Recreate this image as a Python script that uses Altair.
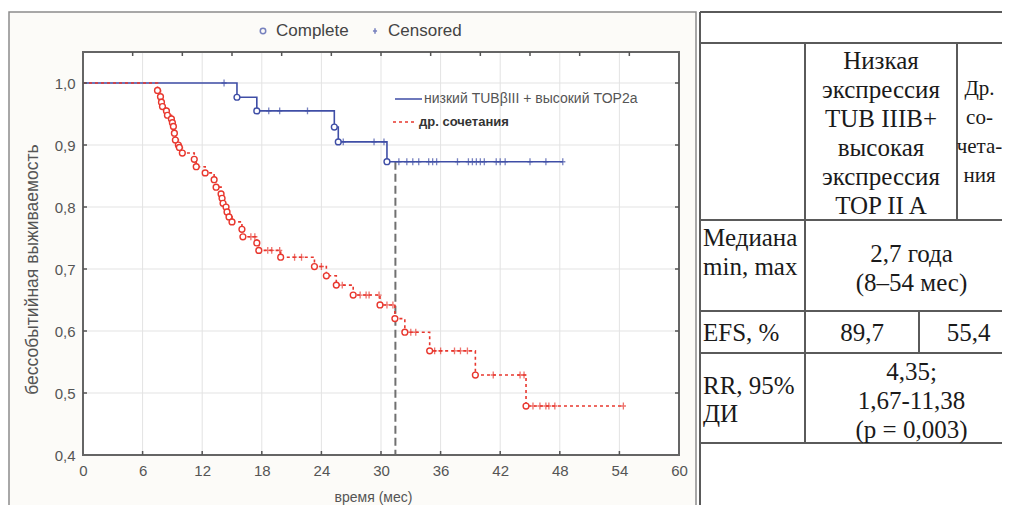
import altair as alt
import pandas as pd

# ---------------- data ----------------
GROUPS = ["низкий TUBβIII + высокий TOP2a", "др. сочетания"]
EVENT_KINDS = ["Complete", "Censored"]

BLUE_EVENT_T = [15.5, 17.5, 25.3, 25.7, 30.6]
BLUE_EVENT_S = [0.977, 0.955, 0.929, 0.905, 0.873]
BLUE_CENS_T = [14.2, 18.7, 19.8, 22.6, 26.2, 29.3, 30.3, 31.8, 32.6, 33.2, 33.8,
               34.8, 35.2, 35.6, 37.7, 38.8, 39.2, 39.6, 40.0, 40.4, 41.6, 42.0,
               42.5, 45.0, 46.6, 48.3]

RED_EVENT_T = [7.5, 7.8, 7.9, 8.0, 8.4, 8.5, 8.9, 9.0, 9.1, 9.2, 9.3, 9.6, 9.7,
               10.0, 11.2, 11.4, 12.3, 13.2, 13.4, 13.9, 14.0, 14.1, 14.4, 14.5,
               14.7, 15.0, 16.0, 16.1, 17.5, 17.7, 19.9, 23.3, 24.5, 25.5, 27.2,
               29.9, 31.4, 32.4, 34.9, 39.5, 44.6]
RED_EVENT_S = [0.988, 0.978, 0.969, 0.962, 0.955, 0.948, 0.942, 0.936, 0.930,
               0.919, 0.908, 0.900, 0.896, 0.887, 0.877, 0.865, 0.855, 0.844,
               0.832, 0.821, 0.814, 0.806, 0.800, 0.792, 0.784, 0.776, 0.764,
               0.752, 0.742, 0.730, 0.719, 0.704, 0.689, 0.674, 0.658, 0.642,
               0.620, 0.598, 0.568, 0.529, 0.479]
RED_CENS_T = [16.9, 17.3, 18.6, 19.0, 19.8, 21.3, 22.0, 24.0, 26.1, 27.9, 28.5,
              28.8, 29.8, 30.6, 31.2, 33.0, 33.5, 35.4, 36.0, 37.4, 38.0, 38.7,
              41.3, 44.0, 44.4, 45.3, 46.0, 46.6, 46.9, 47.5, 54.4]

MEDIAN_T = [31.45]
MEDIAN_TOP = [0.873]
MEDIAN_BOTTOM = [0.4]

X_TICKS = [0, 6, 12, 18, 24, 30, 36, 42, 48, 54, 60]
X_TOP_TICKS = [5, 10, 15, 20, 25, 30, 35, 40, 45, 50, 55]
Y_TICKS = [0.4, 0.5, 0.6, 0.7, 0.8, 0.9, 1.0]

X_TITLE = "время (мес)"
Y_TITLE = "бессобытийная выживаемость"

# table texts
HEAD_COL2 = ["Низкая", "экспрессия", "TUB IIIB+", "высокая", "экспрессия", "TOP II A"]
HEAD_COL3 = ["Др.", "со-", "чета-", "ния"]
MEDIAN_LABEL = ["Медиана", "min, max"]
MEDIAN_VALUE = ["2,7 года", "(8–54 мес)"]
EFS_LABEL = ["EFS, %"]
EFS_VALUES = ["89,7", "55,4"]
RR_LABEL = ["RR, 95%", "ДИ"]
RR_VALUE = ["4,35;", "1,67-11,38", "(p = 0,003)"]

# ---------------- styling / layout ----------------
BLUE = "#3f4ea6"
RED = "#e8372e"
PLUS = "M0,-1L0,1M-0.75,0L0.75,0"
W, H = 596, 403
SANS = "Liberation Sans"
SERIF = "Liberation Serif"


def level_at(t, ev_t, ev_s):
    s = 1.0
    for et, es in zip(ev_t, ev_s):
        if et <= t:
            s = es
    return s


line_rows, mark_rows = [], []
for g, et, es, ct in [(GROUPS[0], BLUE_EVENT_T, BLUE_EVENT_S, BLUE_CENS_T),
                      (GROUPS[1], RED_EVENT_T, RED_EVENT_S, RED_CENS_T)]:
    line_rows.append({"group": g, "t": 0.0, "s": 1.0})
    for t, s in zip(et, es):
        line_rows.append({"group": g, "t": t, "s": s})
        mark_rows.append({"group": g, "t": t, "s": s, "kind": EVENT_KINDS[0]})
    for t in ct:
        mark_rows.append({"group": g, "t": t, "s": level_at(t, et, es), "kind": EVENT_KINDS[1]})
    line_rows.append({"group": g, "t": max(ct), "s": level_at(max(ct), et, es)})
line_df = pd.DataFrame(line_rows)
mark_df = pd.DataFrame(mark_rows)

xs = alt.Scale(domain=[0, 60], nice=False, zero=False)
ys = alt.Scale(domain=[0.4, 1.05], nice=False, zero=False)
xax = alt.Axis(orient="bottom", values=X_TICKS, grid=False, ticks=False, domain=False,
               tickSize=0, labelFlush=False, labelFont=SANS, labelFontSize=15,
               labelColor="#555", labelPadding=8, title=X_TITLE, titleFont=SANS,
               titleFontSize=14, titleFontWeight="normal", titleColor="#555",
               titlePadding=12, titleX=290, zindex=1)
yax = alt.Axis(orient="left", values=Y_TICKS, grid=False, ticks=False, domain=False,
               tickSize=0, labelFlush=False, labelFont=SANS, labelFontSize=15,
               labelColor="#555", labelPadding=8,
               labelExpr="replace(format(datum.value, '.1f'), '.', ',')",
               title=Y_TITLE, titleFont=SANS, titleFontSize=17.5, titleFontWeight="normal",
               titleColor="#555", titlePadding=13, titleY=217, zindex=1)

X = lambda f: alt.X(f, type="quantitative", scale=xs, axis=xax)
Y = lambda f: alt.Y(f, type="quantitative", scale=ys, axis=yax)
color = alt.Color("group:N", scale=alt.Scale(domain=GROUPS, range=[BLUE, RED]), legend=None)
dash = alt.StrokeDash("group:N", scale=alt.Scale(domain=GROUPS, range=[[1, 0], [3, 3]]), legend=None)

one = pd.DataFrame({"a": [0]})
plot_bg = alt.Chart(one).mark_rect(fill="white").encode(
    x=alt.value(0), x2=alt.value(W), y=alt.value(0), y2=alt.value(H))
vgrid = alt.Chart(pd.DataFrame({"t": X_TICKS})).mark_rule(color="#e3e3e3", strokeWidth=1).encode(
    x=X("t"), y=alt.value(0), y2=alt.value(H))
hgrid = alt.Chart(pd.DataFrame({"s": Y_TICKS})).mark_rule(color="#e3e3e3", strokeWidth=1).encode(
    y=Y("s"), x=alt.value(0), x2=alt.value(W))
median = alt.Chart(pd.DataFrame({"t": MEDIAN_T, "top": MEDIAN_TOP, "bot": MEDIAN_BOTTOM})).mark_rule(
    color="#707070", strokeWidth=2, strokeDash=[8, 4]).encode(x=X("t"), y=Y("top"), y2="bot:Q")
lines = alt.Chart(line_df).mark_line(interpolate="step-after", strokeWidth=1.6).encode(
    x=X("t"), y=Y("s"), color=color, strokeDash=dash, detail="group:N")
circles = alt.Chart(mark_df).transform_filter(alt.datum.kind == EVENT_KINDS[0]).mark_point(
    shape="circle", size=34, strokeWidth=1.4, filled=False, fill="white", fillOpacity=1).encode(
    x=X("t"), y=Y("s"), color=color)
crosses = alt.Chart(mark_df).transform_filter(alt.datum.kind == EVENT_KINDS[1]).mark_point(
    shape=PLUS, size=48, strokeWidth=1.3, filled=False).encode(x=X("t"), y=Y("s"), color=color)
frame = alt.Chart(one).mark_rect(fill="transparent", stroke="#656565", strokeWidth=2).encode(
    x=alt.value(0), x2=alt.value(W), y=alt.value(0), y2=alt.value(H))
tick_style = dict(color="#555", strokeWidth=1.5)
bticks = alt.Chart(pd.DataFrame({"t": X_TICKS[1:-1]})).mark_rule(**tick_style).encode(
    x=X("t"), y=alt.value(H), y2=alt.value(H - 4))
tticks = alt.Chart(pd.DataFrame({"t": X_TOP_TICKS})).mark_rule(**tick_style).encode(
    x=X("t"), y=alt.value(0), y2=alt.value(4))
lticks = alt.Chart(pd.DataFrame({"s": Y_TICKS[1:]})).mark_rule(**tick_style).encode(
    y=Y("s"), x=alt.value(0), x2=alt.value(4))
rticks = alt.Chart(pd.DataFrame({"s": Y_TICKS[1:]})).mark_rule(**tick_style).encode(
    y=Y("s"), x=alt.value(W), x2=alt.value(W - 4))

km = alt.layer(plot_bg, vgrid, hgrid, median, lines, circles, crosses, frame,
               bticks, tticks, lticks, rticks)

# ---------------- page-coordinate layers (panel, legends, table) ----------------
PXS = alt.Scale(domain=[0, 1010], range=[-83, 927], nice=False, zero=False)
PYS = alt.Scale(domain=[0, 513], range=[-52, 461], nice=False, zero=False)
PX = lambda f: alt.X(f, type="quantitative", scale=PXS, axis=None)
PY = lambda f: alt.Y(f, type="quantitative", scale=PYS, axis=None)

panel = alt.Chart(pd.DataFrame({"x": [9], "x2": [696], "y": [12], "y2": [530]})).mark_rect(
    fill="#fcfbf8", stroke="#8c8c8c", strokeWidth=1.5).encode(
    x=PX("x"), x2="x2:Q", y=PY("y"), y2="y2:Q")

# top legend
leg_sym = alt.Chart(pd.DataFrame({"x": [263, 375], "y": [31, 31], "kind": EVENT_KINDS})).mark_point(
    filled=False, strokeWidth=1.5, size=30, color=BLUE).encode(
    x=PX("x"), y=PY("y"),
    shape=alt.Shape("kind:N", scale=alt.Scale(domain=EVENT_KINDS, range=["circle", PLUS]), legend=None))
leg_txt = alt.Chart(pd.DataFrame({"x": [276, 388], "y": [31, 31], "label": EVENT_KINDS})).mark_text(
    align="left", baseline="middle", font=SANS, fontSize=17, color="#444").encode(
    x=PX("x"), y=PY("y"), text="label:N")

# inner legend
in_rule = alt.Chart(pd.DataFrame({"x": [395, 393], "x2": [422, 416], "y": [99, 122], "group": GROUPS})).mark_rule(
    strokeWidth=1.6).encode(x=PX("x"), x2="x2:Q", y=PY("y"), color=color,
                            strokeDash=alt.StrokeDash("group:N", scale=alt.Scale(domain=GROUPS, range=[[1, 0], [2, 2]]), legend=None))
in_txt1 = alt.Chart(pd.DataFrame({"x": [424], "y": [99], "label": [GROUPS[0]]})).mark_text(
    align="left", baseline="middle", font=SANS, fontSize=14, color="#555").encode(
    x=PX("x"), y=PY("y"), text="label:N")
in_txt2 = alt.Chart(pd.DataFrame({"x": [419], "y": [122], "label": [GROUPS[1]]})).mark_text(
    align="left", baseline="middle", font=SANS, fontSize=13, fontWeight="bold", color="#333").encode(
    x=PX("x"), y=PY("y"), text="label:N")

# table grid lines (page coordinates)
T_L, T_R = 700, 1018
C1, C2E, C2H = 805, 919, 957
R0, R1, R2, R3, R4, R5 = 12, 43, 220, 311, 353, 443
tab_lines = pd.DataFrame([
    {"x": T_L, "x2": T_R, "y": R0, "y2": R0},
    {"x": T_L, "x2": T_R, "y": R1, "y2": R1},
    {"x": T_L, "x2": T_R, "y": R2, "y2": R2},
    {"x": T_L, "x2": T_R, "y": R3, "y2": R3},
    {"x": T_L, "x2": T_R, "y": R4, "y2": R4},
    {"x": T_L, "x2": T_R, "y": R5, "y2": R5},
    {"x": T_L, "x2": T_L, "y": R0, "y2": 520},
    {"x": C1, "x2": C1, "y": R1, "y2": R5},
    {"x": C2H, "x2": C2H, "y": R1, "y2": R2},
    {"x": C2E, "x2": C2E, "y": R3, "y2": R4},
])
tab_rules = alt.Chart(tab_lines).mark_rule(color="#5a5a5a", strokeWidth=2).encode(
    x=PX("x"), x2="x2:Q", y=PY("y"), y2="y2:Q")


def cell(lines_, x, y0, step):
    return [{"x": x, "y": y0 + i * step, "label": s} for i, s in enumerate(lines_)]


left_rows = (cell(MEDIAN_LABEL, 703, 238, 29) + cell(EFS_LABEL, 703, 333, 29)
             + cell(RR_LABEL, 703, 386, 28))
center_rows = (cell(HEAD_COL2, (C1 + C2H) / 2, 61, 29)
               + cell(MEDIAN_VALUE, (C1 + T_R) / 2, 254, 29)
               + [{"x": (C1 + C2E) / 2, "y": 333, "label": EFS_VALUES[0]},
                  {"x": (C2E + T_R) / 2, "y": 333, "label": EFS_VALUES[1]}]
               + cell(RR_VALUE, (C1 + T_R) / 2, 372, 29))
narrow_rows = cell(HEAD_COL3, 979.5, 89, 29)   # last column, squeezed to stay inside the page
txt_style = dict(baseline="middle", font=SERIF, color="#1a1a1a")
tab_left = alt.Chart(pd.DataFrame(left_rows)).mark_text(align="left", fontSize=25, **txt_style).encode(
    x=PX("x"), y=PY("y"), text="label:N")
tab_center = alt.Chart(pd.DataFrame(center_rows)).mark_text(align="center", fontSize=25, **txt_style).encode(
    x=PX("x"), y=PY("y"), text="label:N")
tab_narrow = alt.Chart(pd.DataFrame(narrow_rows)).mark_text(align="center", fontSize=21, **txt_style).encode(
    x=PX("x"), y=PY("y"), text="label:N")

fg = alt.layer(leg_sym, leg_txt, in_rule, in_txt1, in_txt2, tab_rules, tab_left, tab_center, tab_narrow)

# svg = 994 x 497 so the page (8px margins) is exactly 1010 x 513 without scrollbars
chart = alt.layer(panel, km, fg).resolve_scale(
    x="independent", y="independent", color="shared"
).properties(
    width=W, height=H,
    autosize=alt.AutoSizeParams(type="none"),
    padding={"left": 75, "top": 44, "right": 323, "bottom": 50},
    background="white",
).configure_view(strokeWidth=0, fill=None).configure(font=SANS)

chart.save("out.html", embed_options={"renderer": "svg", "actions": False})
